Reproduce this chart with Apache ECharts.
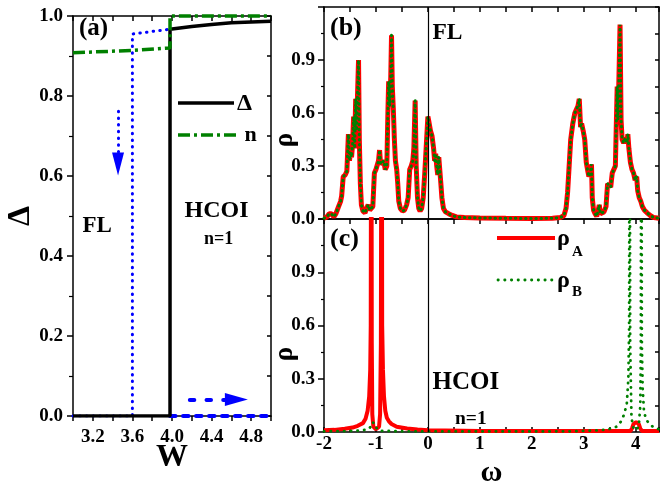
<!DOCTYPE html>
<html><head><meta charset="utf-8">
<script src="https://cdn.jsdelivr.net/npm/echarts@6/dist/echarts.min.js"></script>
<style>html,body{margin:0;padding:0;background:#fff}#c{width:660px;height:485px}</style>
</head><body><div id="c"></div>
<script>
// ---------- Panel (a): Delta and n versus W ----------
const W_delta = [3.0, 3.98, 3.98, 4.2, 4.4, 4.6, 4.8, 5.0];
const deltaVals = [0, 0, 0.967, 0.974, 0.979, 0.983, 0.985, 0.987];
const W_n = [3.0, 3.6, 3.98, 3.98, 5.0];
const nVals = [0.908, 0.914, 0.92, 1.0, 1.0];
const W_blueDot = [3.0, 3.6, 3.6, 3.98];
const blueDotVals = [0, 0, 0.955, 0.967];
const W_blueDash = [3.98, 5.0];
const blueDashVals = [0, 0];
const arrowDown = [[3.455, 0.762], [3.455, 0.63]];
const arrowRight = [[4.18, 0.041], [4.65, 0.041]];
const xLabelsA = [3.2, 3.6, 4.0, 4.4, 4.8];

// ---------- Panel (b): FL density of states (rho_A and rho_B coincide) ----------
const omegaFL = [-2.00,-1.95,-1.90,-1.86,-1.81,-1.77,-1.72,-1.68,-1.66,-1.63,-1.59,-1.56,-1.53,-1.51,-1.49,-1.47,-1.45,-1.43,-1.41,-1.39,-1.37,-1.355,-1.335,-1.32,-1.30,-1.28,-1.25,-1.21,-1.18,-1.15,-1.12,-1.09,-1.06,-1.03,-1.00,-0.97,-0.95,-0.93,-0.91,-0.88,-0.85,-0.82,-0.79,-0.77,-0.755,-0.735,-0.715,-0.70,-0.685,-0.665,-0.645,-0.625,-0.60,-0.58,-0.56,-0.53,-0.49,-0.45,-0.41,-0.38,-0.35,-0.32,-0.29,-0.27,-0.245,-0.225,-0.20,-0.175,-0.15,-0.12,-0.09,-0.06,-0.03,0.00,0.02,0.05,0.08,0.11,0.13,0.15,0.17,0.19,0.21,0.23,0.25,0.27,0.30,0.34,0.40,0.47,0.55,0.70,1.00,1.50,2.00,2.40,2.55,2.62,2.66,2.69,2.72,2.75,2.79,2.83,2.86,2.89,2.915,2.94,2.96,2.99,3.02,3.05,3.08,3.10,3.13,3.15,3.165,3.19,3.22,3.25,3.28,3.30,3.32,3.35,3.39,3.43,3.46,3.49,3.52,3.55,3.58,3.61,3.63,3.645,3.66,3.675,3.70,3.72,3.74,3.77,3.80,3.83,3.85,3.87,3.90,3.93,3.96,3.99,4.02,4.04,4.07,4.10,4.13,4.17,4.22,4.28,4.35,4.45];
const rhoFL = [0.005,0.01,0.03,0.03,0.012,0.03,0.07,0.10,0.13,0.24,0.25,0.27,0.48,0.33,0.38,0.35,0.42,0.58,0.40,0.68,0.50,0.70,0.90,0.45,0.20,0.08,0.045,0.035,0.06,0.08,0.05,0.06,0.07,0.26,0.28,0.31,0.33,0.39,0.31,0.30,0.33,0.28,0.30,0.60,0.78,0.64,0.80,1.04,0.75,0.62,0.45,0.33,0.28,0.20,0.10,0.06,0.045,0.05,0.08,0.12,0.28,0.30,0.33,0.40,0.67,0.30,0.12,0.06,0.045,0.06,0.12,0.26,0.42,0.58,0.55,0.50,0.47,0.40,0.33,0.37,0.30,0.25,0.35,0.34,0.20,0.12,0.06,0.04,0.03,0.02,0.012,0.008,0.006,0.004,0.003,0.004,0.008,0.02,0.06,0.15,0.30,0.45,0.54,0.60,0.62,0.64,0.68,0.52,0.54,0.50,0.45,0.32,0.27,0.24,0.26,0.31,0.12,0.05,0.03,0.015,0.05,0.08,0.03,0.025,0.04,0.07,0.20,0.21,0.18,0.26,0.28,0.30,0.56,0.75,0.56,0.75,1.10,0.56,0.45,0.43,0.46,0.43,0.48,0.40,0.32,0.28,0.26,0.22,0.24,0.16,0.12,0.10,0.07,0.05,0.035,0.02,0.008,0.004];

// ---------- Panel (c): HCOI density of states ----------
const omegaA_I = [-2.0,-1.8,-1.6,-1.45,-1.35,-1.25,-1.2,-1.16,-1.13,-1.11,-1.10,-1.09,-1.08,-1.07,-1.05,-1.0,-0.94,-0.92,-0.905,-0.89,-0.88,-0.865,-0.845,-0.82,-0.79,-0.75,-0.7,-0.6,-0.4,-0.2,0,1,2,3,3.8,3.9,3.93,3.96,4.01,4.06,4.09,4.12,4.2,4.45];
const rhoA_I = [0.01,0.012,0.018,0.025,0.035,0.05,0.075,0.12,0.2,0.35,0.6,3.0,0.5,0.1,0.03,0.015,0.03,0.1,0.5,3.0,0.6,0.35,0.2,0.12,0.08,0.06,0.045,0.03,0.02,0.014,0.01,0.006,0.006,0.006,0.006,0.006,0.02,0.045,0.056,0.045,0.02,0.006,0.006,0.006];
const omegaB_I = [-2.0,-1.6,-1.3,-1.15,-1.1,-1.07,-1.04,-1.01,-0.98,-0.9,-0.6,0,1,2,2.8,3.2,3.4,3.56,3.65,3.72,3.78,3.83,3.86,3.875,3.885,3.895,3.92,3.96,4.0,4.06,4.09,4.10,4.11,4.12,4.135,4.16,4.2,4.27,4.35,4.45];
const rhoB_I = [0.004,0.005,0.008,0.015,0.03,0.055,0.06,0.045,0.015,0.007,0.004,0.003,0.003,0.003,0.004,0.008,0.013,0.02,0.033,0.06,0.1,0.16,0.3,0.6,3.0,0.5,0.08,0.02,0.01,0.03,0.15,0.5,3.0,0.5,0.25,0.12,0.07,0.045,0.025,0.015];

const FONT = "'Times New Roman','Liberation Serif',serif";
const RED = '#ff0000', GREEN = '#008000', BLUE = '#0000ff';
const zip = (xs, ys) => xs.map((x, i) => [x, ys[i]]);
const axLine = {show: true, onZero: false, lineStyle: {color: '#000', width: 1.5}};
const lbl = {fontFamily: FONT, fontWeight: 'bold', fontSize: 19, color: '#000'};
const tick = (inside, len) => ({show: true, inside: inside, length: len, lineStyle: {color: '#000', width: 1.5}});
const nameStyle = (fs) => ({fontFamily: FONT, fontWeight: 'bold', fontSize: fs, color: '#000'});

const xAxes = [
  {type: 'value', gridIndex: 0, position: 'bottom', min: 3, max: 5, interval: 0.2,
   axisLine: axLine, axisTick: tick(false, 5), splitLine: {show: false},
   axisLabel: Object.assign({margin: 12, formatter: v => xLabelsA.some(t => Math.abs(t - v) < 1e-6) ? v.toFixed(1) : ''}, lbl),
   name: 'W', nameLocation: 'middle', nameGap: 26, nameMoveOverlap: false, nameTextStyle: nameStyle(32)},
  {type: 'value', gridIndex: 0, position: 'top', min: 3, max: 5, interval: 0.2,
   axisLine: axLine, axisTick: tick(true, 5), splitLine: {show: false}, axisLabel: {show: false}},
  {type: 'value', gridIndex: 1, position: 'bottom', min: -2, max: 4.45, interval: 0.5,
   axisLine: axLine, axisTick: {show: false}, splitLine: {show: false}, axisLabel: {show: false}},
  {type: 'value', gridIndex: 1, position: 'top', min: -2, max: 4.45, interval: 0.5,
   axisLine: axLine, axisTick: tick(true, 5), splitLine: {show: false}, axisLabel: {show: false}},
  {type: 'value', gridIndex: 2, position: 'bottom', min: -2, max: 4.45, interval: 0.5,
   axisLine: axLine, axisTick: tick(true, 5), splitLine: {show: false},
   axisLabel: Object.assign({margin: 3, formatter: v => Number.isInteger(v) ? String(v) : ''}, lbl),
   name: 'ω', nameLocation: 'middle', nameGap: 26, nameMoveOverlap: false, nameTextStyle: nameStyle(30)},
  {type: 'value', gridIndex: 2, position: 'top', min: -2, max: 4.45, interval: 0.5,
   axisLine: axLine, axisTick: tick(true, 5), splitLine: {show: false}, axisLabel: {show: false}}
];
const yAxes = [
  {type: 'value', gridIndex: 0, position: 'left', min: 0, max: 1, interval: 0.2,
   axisLine: axLine, axisTick: tick(false, 6), minorTick: {show: true, splitNumber: 2, length: 4, lineStyle: {color: '#000', width: 1.2}},
   splitLine: {show: false}, minorSplitLine: {show: false},
   axisLabel: Object.assign({margin: 10, formatter: v => v.toFixed(1)}, lbl),
   name: 'Δ', nameLocation: 'middle', nameGap: 36, nameMoveOverlap: false, nameTextStyle: nameStyle(32)},
  {type: 'value', gridIndex: 0, position: 'right', min: 0, max: 1, interval: 0.1,
   axisLine: axLine, axisTick: tick(true, 4), splitLine: {show: false}, axisLabel: {show: false}},
  {type: 'value', gridIndex: 1, position: 'left', min: 0, max: 1.2, interval: 0.3,
   axisLine: axLine, axisTick: tick(false, 6), minorTick: {show: true, splitNumber: 2, length: 3, lineStyle: {color: '#000', width: 1.2}},
   splitLine: {show: false}, minorSplitLine: {show: false},
   axisLabel: Object.assign({margin: 9, formatter: v => v > 1.1 ? '' : v.toFixed(1)}, lbl)},
  {type: 'value', gridIndex: 1, position: 'right', min: 0, max: 1.2, interval: 0.15,
   axisLine: axLine, axisTick: tick(true, 4), splitLine: {show: false}, axisLabel: {show: false}},
  {type: 'value', gridIndex: 2, position: 'left', min: 0, max: 1.2, interval: 0.3,
   axisLine: axLine, axisTick: tick(false, 6), minorTick: {show: true, splitNumber: 2, length: 3, lineStyle: {color: '#000', width: 1.2}},
   splitLine: {show: false}, minorSplitLine: {show: false},
   axisLabel: Object.assign({margin: 9, formatter: v => v > 1.1 ? '' : v.toFixed(1)}, lbl)},
  {type: 'value', gridIndex: 2, position: 'right', min: 0, max: 1.2, interval: 0.15,
   axisLine: axLine, axisTick: tick(true, 4), splitLine: {show: false}, axisLabel: {show: false}}
];

const vline0 = {silent: true, symbol: ['none', 'none'], label: {show: false},
  lineStyle: {color: '#000', width: 1.2, type: 'solid'}, data: [{xAxis: 0}]};

const series = [
  // (a)
  {type: 'line', xAxisIndex: 0, yAxisIndex: 0, data: zip(W_blueDot, blueDotVals), showSymbol: false, z: 2,
   lineStyle: {color: BLUE, width: 3, type: [0.5, 6.2], cap: 'round'},
   markLine: {silent: true, label: {show: false}, symbol: ['none', 'triangle'], symbolSize: [1, [12, 23]],
     lineStyle: {color: BLUE, width: 3, type: [0.5, 6.2], cap: 'round'}, itemStyle: {color: BLUE},
     data: [[{coord: arrowDown[0]}, {coord: arrowDown[1], symbol: 'triangle', symbolSize: [12, 23]}]]}},
  {type: 'line', xAxisIndex: 0, yAxisIndex: 0, data: zip(W_blueDash, blueDashVals), showSymbol: false, z: 2,
   lineStyle: {color: BLUE, width: 4, type: [5.5, 7.5], cap: 'round'},
   markLine: {silent: true, label: {show: false}, symbol: ['none', 'triangle'], symbolSize: [1, [13, 23]],
     lineStyle: {color: BLUE, width: 4, type: [4.5, 12.2], cap: 'round'}, itemStyle: {color: BLUE},
     data: [[{coord: arrowRight[0]}, {coord: arrowRight[1], symbol: 'triangle', symbolSize: [13, 23]}]]}},
  {type: 'line', xAxisIndex: 0, yAxisIndex: 0, data: zip(W_delta, deltaVals), showSymbol: false, z: 3,
   lineStyle: {color: '#000', width: 3.5}},
  {type: 'line', xAxisIndex: 0, yAxisIndex: 0, data: zip(W_n, nVals), showSymbol: false, z: 4, clip: false,
   lineStyle: {color: GREEN, width: 3.5, type: [12, 4, 3, 4]}},
  // (b)
  {type: 'line', xAxisIndex: 2, yAxisIndex: 2, data: zip(omegaFL, rhoFL), showSymbol: false, z: 2,
   lineStyle: {color: RED, width: 5}, markLine: vline0},
  {type: 'line', xAxisIndex: 2, yAxisIndex: 2, data: zip(omegaFL, rhoFL), showSymbol: false, z: 3,
   lineStyle: {color: GREEN, width: 3, type: [0.5, 4.6], cap: 'round'}},
  // (c)
  {type: 'line', xAxisIndex: 4, yAxisIndex: 4, data: zip(omegaA_I, rhoA_I), showSymbol: false, z: 2,
   lineStyle: {color: RED, width: 4}, markLine: vline0},
  {type: 'line', xAxisIndex: 4, yAxisIndex: 4, data: zip(omegaB_I, rhoB_I), showSymbol: false, z: 3,
   lineStyle: {color: GREEN, width: 2.8, type: [0.3, 6.4], cap: 'round'}}
];

function txt(text, x, y, fs) {
  return {type: 'text', x: x, y: y, z: 100, silent: true,
    style: {text: text, font: 'bold ' + fs + 'px ' + FONT, fill: '#000', align: 'left', verticalAlign: 'top', textAlign: 'left', textVerticalAlign: 'top'}};
}
function rtxt(text, x, y, fs) {
  return {type: 'text', x: x, y: y, rotation: Math.PI / 2, z: 100, silent: true,
    style: {text: text, font: 'bold ' + fs + 'px ' + FONT, fill: '#000', align: 'center', verticalAlign: 'middle', textAlign: 'center', textVerticalAlign: 'middle'}};
}
function seg(x1, x2, y, color, width, dash, cap) {
  return {type: 'line', z: 100, silent: true, shape: {x1: x1, y1: y, x2: x2, y2: y},
    style: {stroke: color, lineWidth: width, lineDash: dash || null, lineCap: cap || 'butt'}};
}

const graphics = [
  txt('(a)', 79, 16.4, 25),
  txt('FL', 82.5, 214.3, 23),
  txt('HCOI', 184.5, 198.8, 24),
  txt('n=1', 204, 230, 18),
  seg(178, 234, 103, '#000', 3.5),
  txt('Δ', 237, 92, 24),
  seg(178, 237, 135, GREEN, 3.5, [12, 4, 3, 4]),
  txt('n', 244.5, 124.6, 22),
  txt('(b)', 330, 15.2, 26),
  txt('FL', 432.5, 21, 23.5),
  txt('(c)', 330, 226.2, 26),
  txt('HCOI', 432.5, 369.6, 25),
  txt('n=1', 455, 409, 19.5),
  seg(497, 555, 238, RED, 4),
  txt('ρ', 557, 227, 24),
  txt('A', 572, 244.4, 15),
  seg(498, 555, 280, GREEN, 2.8, [0.3, 6.4], 'round'),
  txt('ρ', 557, 269, 24),
  txt('B', 572, 284.4, 15),
  rtxt('ρ', 285, 140, 27),
  rtxt('ρ', 285, 354, 27)
];

const chart = echarts.init(document.getElementById('c'), null, {renderer: 'canvas'});
chart.setOption({
  animation: false,
  backgroundColor: '#fff',
  grid: [
    {left: 73, top: 16, width: 198, height: 400, outerBoundsMode: 'none', containLabel: false},
    {left: 324, top: 7, width: 335, height: 212, outerBoundsMode: 'none', containLabel: false},
    {left: 324, top: 219, width: 335, height: 213, outerBoundsMode: 'none', containLabel: false}
  ],
  xAxis: xAxes,
  yAxis: yAxes,
  series: series,
  graphic: graphics
});
</script>
</body></html>
